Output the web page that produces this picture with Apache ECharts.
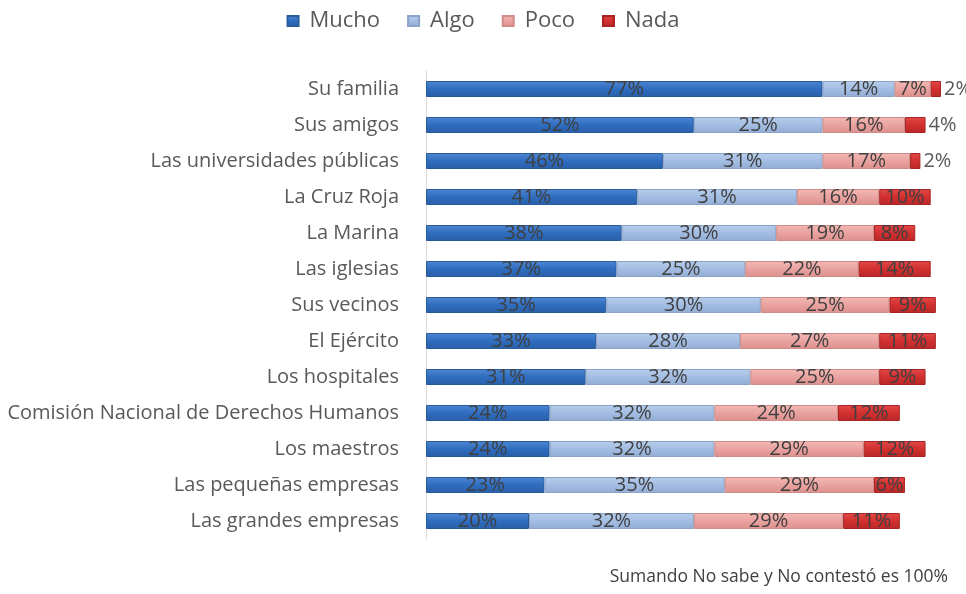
<!DOCTYPE html>
<html>
<head>
<meta charset="utf-8">
<script src="https://cdn.jsdelivr.net/npm/echarts@6/dist/echarts.min.js"></script>
<style>
  html, body { margin: 0; padding: 0; background: #ffffff; }
  #chart { width: 966px; height: 594px; }
</style>
</head>
<body>
<div id="chart"></div>
<script>
// Confidence in institutions, share of answers per category (%)
const categories = [
  'Su familia',
  'Sus amigos',
  'Las universidades públicas',
  'La Cruz Roja',
  'La Marina',
  'Las iglesias',
  'Sus vecinos',
  'El Ejército',
  'Los hospitales',
  'Comisión Nacional de Derechos Humanos',
  'Los maestros',
  'Las pequeñas empresas',
  'Las grandes empresas'
];
const mucho = [77, 52, 46, 41, 38, 37, 35, 33, 31, 24, 24, 23, 20];
const algo  = [14, 25, 31, 31, 30, 25, 30, 28, 32, 32, 32, 35, 32];
const poco  = [7, 16, 17, 16, 19, 22, 25, 27, 25, 24, 29, 29, 29];
const nada  = [2, 4, 2, 10, 8, 14, 9, 11, 9, 12, 12, 6, 11];
const seriesNames = ['Mucho', 'Algo', 'Poco', 'Nada'];
const footnote = 'Sumando No sabe y No contestó es 100%';

const FONT = 'Open Sans';

function grad(top, mid, bottom) {
  return new echarts.graphic.LinearGradient(0, 0, 0, 1, [
    { offset: 0, color: top },
    { offset: 0.5, color: mid },
    { offset: 1, color: bottom }
  ]);
}

const styles = [
  { fill: grad('#4f86d0', '#2f6dc0', '#285fa8'), border: '#2a5c9c', legend: '#2f6dc0' },
  { fill: grad('#b7cdea', '#a3bde3', '#93acd4'), border: '#8aa3c8', legend: '#a3bde3' },
  { fill: grad('#f2b9b5', '#eaa3a0', '#dc908d'), border: '#d08a87', legend: '#eaa3a0' },
  { fill: grad('#e04a48', '#d2302f', '#b82828'), border: '#a82424', legend: '#d2302f' }
];

const labelBase = {
  show: true,
  position: 'inside',
  formatter: '{c}%',
  color: '#3f3f3f',
  fontFamily: FONT,
  fontSize: 20
};

function buildData(values, isLast) {
  return values.map(function (v) {
    // small end segments carry their label just past the bar end
    if (isLast && v < 5) {
      return { value: v, label: { position: 'right', distance: 3, color: '#595959' } };
    }
    return v;
  });
}

const allValues = [mucho, algo, poco, nada];
const series = allValues.map(function (vals, i) {
  return {
    name: seriesNames[i],
    type: 'bar',
    stack: 'total',
    barWidth: 16,
    data: buildData(vals, i === 3),
    itemStyle: { color: styles[i].fill, borderColor: styles[i].border, borderWidth: 1 },
    label: labelBase,
    emphasis: { disabled: true }
  };
});

const chart = echarts.init(document.getElementById('chart'), null, { renderer: 'canvas' });
chart.setOption({
  animation: false,
  color: styles.map(function (s) { return s.legend; }),
  legend: {
    top: 5,
    left: 'center',
    itemWidth: 11,
    itemHeight: 10,
    itemGap: 27,
    icon: 'rect',
    textStyle: { color: '#595959', fontFamily: FONT, fontSize: 22, padding: [0, 0, 0, 6] },
    data: seriesNames
  },
  grid: { left: 426, top: 71, width: 515, height: 468, containLabel: false },
  xAxis: {
    type: 'value',
    min: 0,
    max: 100,
    show: false
  },
  yAxis: {
    type: 'category',
    inverse: true,
    data: categories,
    axisTick: { show: false },
    axisLine: { show: true, lineStyle: { color: '#d9d9d9', width: 1 } },
    axisLabel: { color: '#595959', fontFamily: FONT, fontSize: 20, margin: 27 }
  },
  graphic: [{
    type: 'text',
    right: 18,
    top: 568,
    style: { text: footnote, fill: '#404040', font: '17.5px ' + FONT }
  }],
  series: series
});
</script>
</body>
</html>
